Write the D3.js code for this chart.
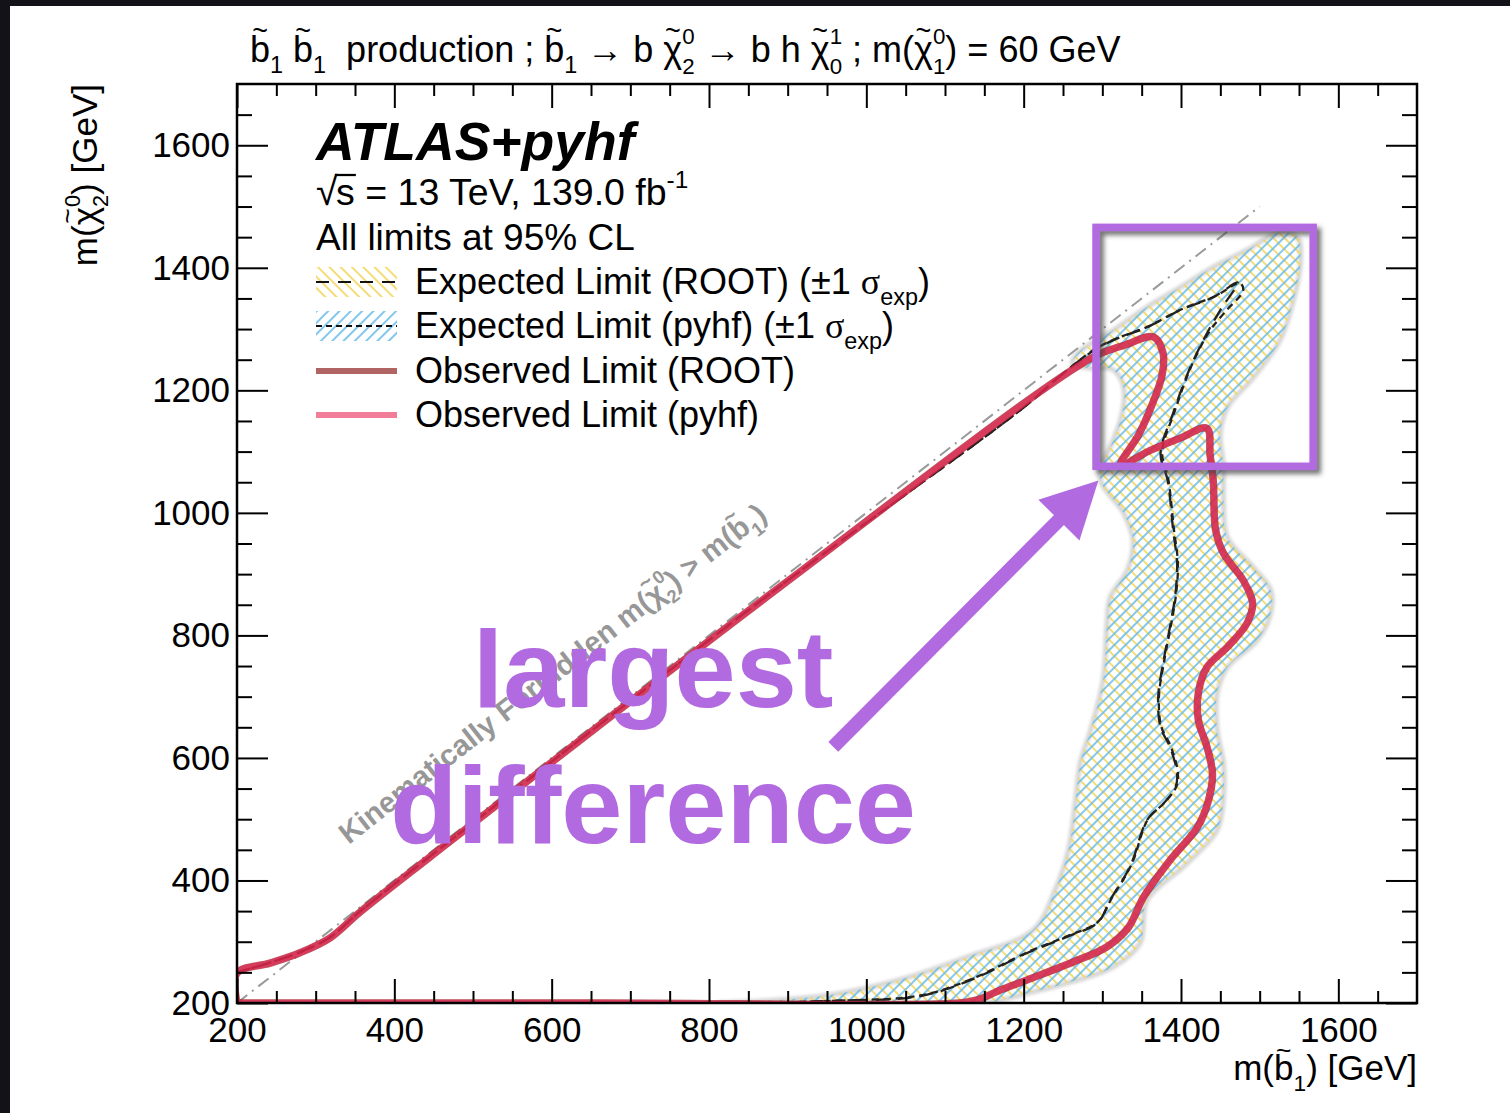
<!DOCTYPE html>
<html>
<head>
<meta charset="utf-8">
<script src="https://cdn.jsdelivr.net/npm/d3@7"></script>
<style>
  body { margin: 0; background: #121218; }
  svg { display: block; }
</style>
</head>
<body>
<svg id="chart" width="1510" height="1113"></svg>
<script>
// ---- data (GeV) ----
const xMajorTicks = [200, 400, 600, 800, 1000, 1200, 1400, 1600];
const yMajorTicks = [200, 400, 600, 800, 1000, 1200, 1400, 1600];

// observed limit contour (ROOT and pyhf agree to the eye)
const observedRoot = [
  [200,200],[200,249],[242,265],[280,282],[318,306],[356,348],[445,438],[890,879],
  [1288,1254],[1329,1274],[1365,1287],[1377,1262],[1376,1225],[1363,1176],[1346,1127],
  [1323,1078],[1361,1102],[1399,1122],[1433,1138],[1437,1094],[1441,1053],[1444,972],
  [1454,934],[1479,890],[1491,853],[1484,820],[1459,781],[1433,748],[1422,706],[1422,662],
  [1433,618],[1440,575],[1435,531],[1421,487],[1386,433],[1352,372],[1333,323],[1305,291],
  [1263,267],[1205,238],[1170,221],[1141,205],[1119,200],[660,200],[200,200]
];
const observedPyhf = [
  [200,200],[200,249],[242,265],[280,282],[318,306],[356,348],[445,438],[890,879],
  [1288,1254],[1329,1274],[1365,1287],[1377,1262],[1376,1225],[1363,1176],[1346,1127],
  [1323,1078],[1361,1102],[1399,1122],[1433,1138],[1437,1094],[1441,1053],[1444,972],
  [1454,934],[1479,890],[1491,853],[1484,820],[1459,781],[1433,748],[1422,706],[1422,662],
  [1433,618],[1440,575],[1435,531],[1421,487],[1386,433],[1352,372],[1333,323],[1305,291],
  [1263,267],[1205,238],[1170,221],[1141,205],[1119,200],[660,200],[200,200]
];

// expected +-1 sigma band (closed contour)
const expectedBand = [
  [1151,200],[1205,216],[1256,233],[1314,259],[1348,298],[1357,368],[1405,425],[1446,482],
  [1454,536],[1454,592],[1446,645],[1446,706],[1459,748],[1497,792],[1514,836],[1514,874],
  [1492,911],[1459,960],[1454,1021],[1454,1075],[1450,1130],[1459,1172],[1492,1221],
  [1526,1282],[1543,1347],[1552,1412],[1548,1450],[1526,1458],[1484,1429],[1441,1401],
  [1399,1368],[1357,1336],[1314,1298],[1270,1262],[1262,1244],[1288,1236],
  [1310,1236],[1323,1220],[1328,1192],[1323,1151],[1314,1119],[1297,1057],[1327,1000],
  [1339,955],[1332,907],[1310,862],[1306,820],[1301,727],[1285,645],[1272,592],[1266,531],
  [1257,450],[1240,384],[1212,319],[1128,275],[1043,238],[954,213],[865,203],[814,200],
  [1000,200]
];

// expected limit lines
const expectedRoot = [
  [900,201],[967,204],[1043,207],[1085,216],[1141,242],[1205,282],[1255,308],[1294,331],
  [1310,368],[1336,425],[1357,499],[1378,526],[1393,552],[1395,575],[1386,618],[1374,650],
  [1371,699],[1378,760],[1386,814],[1393,869],[1395,918],[1390,972],[1383,1053],[1374,1097],
  [1390,1163],[1412,1238],[1433,1293],[1450,1331],[1472,1376],[1441,1352],[1399,1331],
  [1357,1303],[1314,1282],[1288,1264],[1245,1222],[1200,1172],[890,880],[445,439],[356,349],
  [318,307],[280,283],[242,266],[200,250]
];
const expectedPyhf = [
  [900,201],[967,204],[1043,208],[1085,217],[1141,243],[1205,283],[1255,309],[1294,332],
  [1311,369],[1337,426],[1358,500],[1379,527],[1394,553],[1396,576],[1387,619],[1375,651],
  [1372,700],[1379,761],[1387,815],[1394,870],[1396,919],[1391,973],[1384,1054],[1376,1099],
  [1392,1166],[1414,1242],[1436,1296],[1456,1328],[1479,1363],[1475,1375],[1444,1354],
  [1400,1332],[1358,1304],[1315,1283],[1288,1265],[1245,1222],[1200,1172],[890,880],[445,439],
  [356,349],[318,307],[280,283],[242,266],[200,250]
];

const kinematicEdge = [[200, 200], [1500, 1500]];

// ---- layout ----
const W = 1510, H = 1113;
const frame = { left: 237, right: 1417, top: 84, bottom: 1003 };
const FONT = "'Liberation Sans', Arial, Helvetica, sans-serif";
const SERIF = "'Liberation Serif', 'DejaVu Serif', serif";
const PURPLE = "#b26ae0";
const rootObsColor = "rgba(150,30,30,0.7)";
const pyhfObsColor = "rgba(235,40,90,0.65)";

const x = d3.scaleLinear().domain([200, 1700]).range([frame.left, frame.right]);
const y = d3.scaleLinear().domain([200, 1700]).range([frame.bottom, frame.top]);

const svg = d3.select("#chart");
svg.append("rect").attr("width", W).attr("height", H).attr("fill", "#121218");
svg.append("rect").attr("x", 10).attr("y", 6).attr("width", W - 10).attr("height", H - 6).attr("fill", "#fff");

const defs = svg.append("defs");
function hatch(id, color, angle, size) {
  const p = defs.append("pattern").attr("id", id)
    .attr("patternUnits", "userSpaceOnUse")
    .attr("width", size).attr("height", size)
    .attr("patternTransform", `rotate(${angle})`);
  p.append("line").attr("x1", size / 2).attr("x2", size / 2).attr("y1", 0).attr("y2", size)
    .attr("stroke", color).attr("stroke-width", 1.7);
}
hatch("hatchYellow", "#f3d65e", -45, 8);
hatch("hatchBlue", "#6cbde9", 45, 8);
defs.append("clipPath").attr("id", "plotClip").append("rect")
  .attr("x", frame.left).attr("y", frame.top)
  .attr("width", frame.right - frame.left).attr("height", frame.bottom - frame.top);
const shadow = defs.append("filter").attr("id", "boxShadow")
  .attr("x", "-10%").attr("y", "-10%").attr("width", "130%").attr("height", "130%");
shadow.append("feDropShadow").attr("dx", 4).attr("dy", 4).attr("stdDeviation", 2.5)
  .attr("flood-color", "#444").attr("flood-opacity", 0.75);
const blur = defs.append("filter").attr("id", "soft");
blur.append("feGaussianBlur").attr("stdDeviation", 1.5);

// ---- rich text helper (tilde, sub/superscripts, sqrt) ----
function rich(parent, parts, size, opts) {
  opts = opts || {};
  const g = parent.append("g");
  const fam = opts.family || FONT;
  const fill = opts.fill || "#000";
  let cx = 0;
  function put(txt, px, py, s, f2) {
    const t = g.append("text").attr("x", px).attr("y", py)
      .attr("font-size", s).attr("font-family", f2 || fam)
      .attr("font-weight", opts.weight || "normal")
      .attr("font-style", opts.style || "normal")
      .attr("fill", fill).style("white-space", "pre").text(txt);
    return t.node().getComputedTextLength();
  }
  parts.forEach(p => {
    if (typeof p === "string") cx += put(p, cx, 0, size);
    else if (p.f) cx += put(p.t, cx, 0, size, p.f);
    else if (p.sqrt) {
      cx += put("√", cx, 0, size * 1.05) - size * 0.04;
      const w = put(p.sqrt, cx, 0, size);
      g.append("line").attr("x1", cx - 1).attr("x2", cx + w + 1)
        .attr("y1", -size * 0.8).attr("y2", -size * 0.8)
        .attr("stroke", fill).attr("stroke-width", size * 0.06);
      cx += w;
    } else if (p.tilde) {
      const w = put(p.tilde, cx, 0, size);
      g.append("text").attr("x", cx + w / 2).attr("y", -size * 0.6)
        .attr("text-anchor", "middle").attr("font-size", size * 0.75)
        .attr("font-family", fam).attr("font-weight", opts.weight || "normal")
        .attr("fill", fill).text("~");
      cx += w;
    } else if (p.sub) cx += put(p.sub, cx, size * 0.3, size * 0.65, p.sf);
    else if (p.sup) cx += put(p.sup, cx, -size * 0.45, size * 0.65);
    else if (p.ss) {
      const a = put(p.ss[0], cx, -size * 0.5, size * 0.62);
      const b = put(p.ss[1], cx, size * 0.32, size * 0.62);
      cx += Math.max(a, b);
    }
  });
  return { g, width: cx };
}
function place(r, px, py, anchor, extra) {
  const dx = anchor === "end" ? -r.width : anchor === "middle" ? -r.width / 2 : 0;
  r.g.attr("transform", `translate(${px},${py}) ${extra || ""} translate(${dx},0)`);
}

// ---- plot content ----
const plot = svg.append("g").attr("clip-path", "url(#plotClip)");
const smooth = d3.line().x(d => x(d[0])).y(d => y(d[1])).curve(d3.curveCatmullRom.alpha(0.5));
const closed = d3.line().x(d => x(d[0])).y(d => y(d[1])).curve(d3.curveCatmullRomClosed.alpha(0.5));
const straight = d3.line().x(d => x(d[0])).y(d => y(d[1]));

plot.append("path").attr("d", closed(expectedBand))
  .attr("fill", "none").attr("stroke", "#d6d6d6").attr("stroke-width", 5).attr("filter", "url(#soft)");
plot.append("path").attr("d", closed(expectedBand)).attr("fill", "url(#hatchYellow)");
plot.append("path").attr("d", closed(expectedBand)).attr("fill", "url(#hatchBlue)");

plot.append("path").attr("d", straight(kinematicEdge))
  .attr("fill", "none").attr("stroke", "#9a9a9a").attr("stroke-width", 2)
  .attr("stroke-dasharray", "13,6,2,6");

plot.append("path").attr("d", smooth(expectedRoot))
  .attr("fill", "none").attr("stroke", "#222").attr("stroke-width", 2.3)
  .attr("stroke-dasharray", "14,8");
plot.append("path").attr("d", smooth(expectedPyhf))
  .attr("fill", "none").attr("stroke", "#222").attr("stroke-width", 2.3)
  .attr("stroke-dasharray", "7,5");

plot.append("path").attr("d", smooth(observedRoot))
  .attr("fill", "none").attr("stroke", rootObsColor).attr("stroke-width", 7.5)
  .attr("stroke-linejoin", "round");
plot.append("path").attr("d", smooth(observedPyhf))
  .attr("fill", "none").attr("stroke", pyhfObsColor).attr("stroke-width", 6.5)
  .attr("stroke-linejoin", "round");

// kinematic text along the diagonal
const diagAngle = -Math.atan2(y(200) - y(1500), x(1500) - x(200)) * 180 / Math.PI;
const kin = rich(svg, ["Kinematically Forbidden m(", { tilde: "χ" }, { ss: ["0", "2"] }, ") > m(",
  { tilde: "b" }, { sub: "1" }, ")"], 29.5, { weight: "bold", fill: "#979797" });
place(kin, x(342), y(458), "start", `rotate(${diagAngle})`);

// ---- axes ----
function styleAxis(g) {
  g.select(".domain").remove();
  g.selectAll(".tick line").attr("stroke", "#000").attr("stroke-width", 2);
  g.selectAll("text").attr("font-size", 35).attr("font-family", FONT).attr("fill", "#000");
}
const xMinor = d3.range(250, 1700, 50).filter(v => !xMajorTicks.includes(v));
const yMinor = d3.range(250, 1700, 50).filter(v => !yMajorTicks.includes(v));

svg.append("g").attr("transform", `translate(0,${frame.bottom})`)
  .call(d3.axisBottom(x).tickValues(xMajorTicks).tickSize(-24).tickPadding(14).tickFormat(d3.format("d")))
  .call(styleAxis);
svg.append("g").attr("transform", `translate(0,${frame.bottom})`)
  .call(d3.axisBottom(x).tickValues(xMinor).tickSize(-12).tickFormat(""))
  .call(styleAxis);
svg.append("g").attr("transform", `translate(0,${frame.top})`)
  .call(d3.axisTop(x).tickValues(xMajorTicks).tickSize(-24).tickFormat(""))
  .call(styleAxis);
svg.append("g").attr("transform", `translate(0,${frame.top})`)
  .call(d3.axisTop(x).tickValues(xMinor).tickSize(-12).tickFormat(""))
  .call(styleAxis);
svg.append("g").attr("transform", `translate(${frame.left},0)`)
  .call(d3.axisLeft(y).tickValues(yMajorTicks).tickSize(-31).tickPadding(7).tickFormat(d3.format("d")))
  .call(styleAxis);
svg.append("g").attr("transform", `translate(${frame.left},0)`)
  .call(d3.axisLeft(y).tickValues(yMinor).tickSize(-15).tickFormat(""))
  .call(styleAxis);
svg.append("g").attr("transform", `translate(${frame.right},0)`)
  .call(d3.axisRight(y).tickValues(yMajorTicks).tickSize(-31).tickFormat(""))
  .call(styleAxis);
svg.append("g").attr("transform", `translate(${frame.right},0)`)
  .call(d3.axisRight(y).tickValues(yMinor).tickSize(-15).tickFormat(""))
  .call(styleAxis);

svg.append("rect").attr("x", frame.left).attr("y", frame.top)
  .attr("width", frame.right - frame.left).attr("height", frame.bottom - frame.top)
  .attr("fill", "none").attr("stroke", "#000").attr("stroke-width", 2.5);

// axis titles
const xTitle = rich(svg, ["m(", { tilde: "b" }, { sub: "1" }, ") [GeV]"], 35);
place(xTitle, frame.right, 1080, "end");
const yTitle = rich(svg, ["m(", { tilde: "χ" }, { ss: ["0", "2"] }, ") [GeV]"], 35);
place(yTitle, 97, frame.top, "end", "rotate(-90)");

// title
const title = rich(svg, [{ tilde: "b" }, { sub: "1" }, " ", { tilde: "b" }, { sub: "1" }, "  production ; ",
  { tilde: "b" }, { sub: "1" }, " → b ", { tilde: "χ" }, { ss: ["0", "2"] }, " → b h ",
  { tilde: "χ" }, { ss: ["1", "0"] }, " ; m(", { tilde: "χ" }, { ss: ["0", "1"] }, ") = 60 GeV"], 36);
place(title, 250, 62, "start");

// ---- legend ----
const atlas = rich(svg, ["ATLAS+pyhf"], 53.5, { weight: "bold", style: "italic" });
place(atlas, 316, 160, "start");
const lumi = rich(svg, [{ sqrt: "s" }, " = 13 TeV, 139.0 fb", { sup: "-1" }], 37.5);
place(lumi, 316, 205, "start");
const cl = rich(svg, ["All limits at 95% CL"], 37);
place(cl, 316, 250, "start");

const legendRows = [
  { label: "Expected Limit (ROOT) (±1 ", kind: "band", fill: "url(#hatchYellow)", dash: "13,9", cy: 282 },
  { label: "Expected Limit (pyhf) (±1 ", kind: "band", fill: "url(#hatchBlue)", dash: "6,4", cy: 326 },
  { label: "Observed Limit (ROOT)", kind: "line", color: "rgb(176,100,100)", cy: 371 },
  { label: "Observed Limit (pyhf)", kind: "line", color: "rgb(242,125,152)", cy: 415 }
];
legendRows.forEach(r => {
  if (r.kind === "band") {
    svg.append("rect").attr("x", 316).attr("y", r.cy - 15).attr("width", 81).attr("height", 30).attr("fill", r.fill);
    svg.append("line").attr("x1", 316).attr("x2", 397).attr("y1", r.cy).attr("y2", r.cy)
      .attr("stroke", "#111").attr("stroke-width", 2).attr("stroke-dasharray", r.dash);
    const t = rich(svg, [r.label, { t: "σ", f: SERIF }, { sub: "exp" }, ")"], 36);
    place(t, 415, r.cy + 12, "start");
  } else {
    svg.append("line").attr("x1", 316).attr("x2", 397).attr("y1", r.cy).attr("y2", r.cy)
      .attr("stroke", r.color).attr("stroke-width", 6);
    const t = rich(svg, [r.label], 36);
    place(t, 415, r.cy + 12, "start");
  }
});

// ---- annotation ----
const ann = svg.append("g");
ann.append("rect")
  .attr("x", x(1292)).attr("y", y(1466))
  .attr("width", x(1568) - x(1292)).attr("height", y(1076) - y(1466))
  .attr("fill", "none").attr("stroke", PURPLE).attr("stroke-width", 7.5)
  .attr("filter", "url(#boxShadow)");

const tail = [x(958), y(618)], tip = [x(1295), y(1053)];
const dx = tip[0] - tail[0], dy = tip[1] - tail[1], len = Math.hypot(dx, dy);
const ux = dx / len, uy = dy / len, headLen = 56, headHalf = 29;
const base = [tip[0] - ux * headLen, tip[1] - uy * headLen];
ann.append("line").attr("x1", tail[0]).attr("y1", tail[1])
  .attr("x2", base[0] + ux * 4).attr("y2", base[1] + uy * 4)
  .attr("stroke", PURPLE).attr("stroke-width", 14);
ann.append("path")
  .attr("d", `M${tip[0]},${tip[1]} L${base[0] - uy * headHalf},${base[1] + ux * headHalf} L${base[0] + uy * headHalf},${base[1] - ux * headHalf} Z`)
  .attr("fill", PURPLE);

ann.append("text").attr("x", x(729)).attr("y", y(683)).attr("text-anchor", "middle")
  .attr("font-family", FONT).attr("font-weight", "bold").attr("font-size", 110)
  .attr("fill", PURPLE).text("largest");
ann.append("text").attr("x", x(729)).attr("y", y(461)).attr("text-anchor", "middle")
  .attr("font-family", FONT).attr("font-weight", "bold").attr("font-size", 110)
  .attr("fill", PURPLE).text("difference");
</script>
</body>
</html>
